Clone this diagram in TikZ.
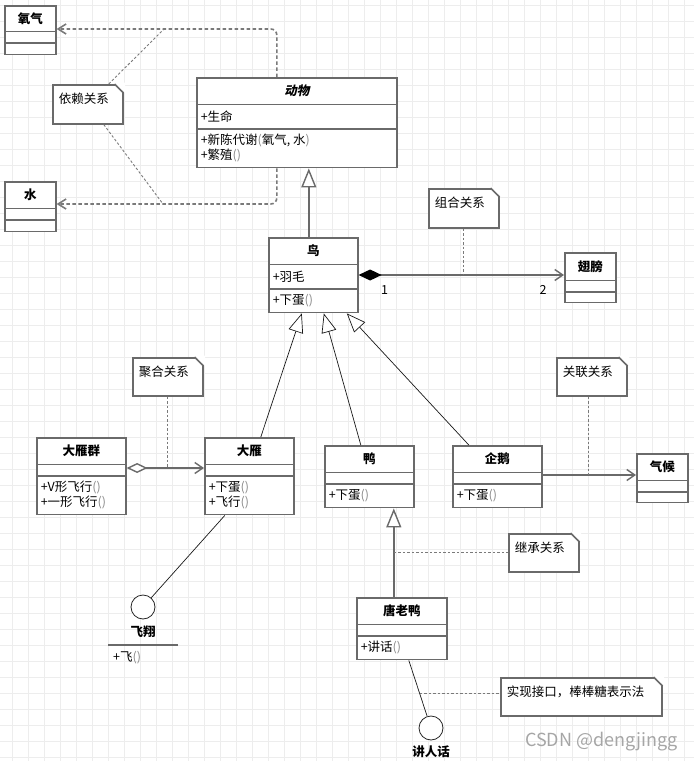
\documentclass[tikz,border=0pt]{standalone}
\usepackage{fontspec}
\setmainfont{Noto Sans CJK SC}
\newfontfamily\slantfont{Noto Sans CJK SC}[FakeSlant=0.2]
\usepackage{xcolor}
\usepackage{tikz}
\usetikzlibrary{arrows.meta}
\usetikzlibrary{shapes.multipart}
\definecolor{boxgray}{HTML}{6A6A6A}
\definecolor{linegray}{HTML}{7A7A7A}
\definecolor{gridgray}{HTML}{EDEDED}
\definecolor{parengray}{HTML}{8C8C8C}
% compartments of a class box: width, height, text
\newcommand{\cname}[3]{\parbox[c][#2bp][c]{#1bp}{\centering\bfseries #3}}
\newcommand{\cbody}[3]{\parbox[c][#2bp][c]{#1bp}{\raggedright\leftskip=4bp\relax #3}}
\newcommand{\args}[1]{\textcolor{parengray}{(}#1\textcolor{parengray}{)}}
\newcommand{\notetext}[3]{\parbox[c][#2bp][t]{#1bp}{\vspace*{8bp}\hspace*{6bp}#3}}
\newcommand{\notefold}[1]{%
    \fill[white] ([xshift=-9.5bp,yshift=1.5bp]#1.north east) -- ([xshift=1.5bp,yshift=1.5bp]#1.north east) -- ([xshift=1.5bp,yshift=-9.5bp]#1.north east) -- cycle;
    \draw[note_edge] ([xshift=-9bp]#1.north east) -- ([yshift=-9bp]#1.north east);}
\tikzset{
    class_box/.style = {rectangle split, rectangle split parts=3, draw=boxgray, line width=1.6bp, fill=white, inner sep=0pt, anchor=north west},
    note_box/.style = {rectangle, draw=boxgray, line width=1.6bp, fill=white, inner sep=0pt, anchor=north west},
    note_edge/.style = {draw=boxgray, line width=1.6bp},
    iface/.style = {circle, draw=black!85, line width=0.8bp, fill=white, minimum size=24bp, inner sep=0pt},
    iface_label/.style = {inner sep=0pt, font=\fontsize{12.5bp}{15bp}\selectfont\bfseries},
    mult_label/.style = {inner sep=0pt},
    grid_line/.style = {draw=gridgray, line width=0.8bp},
    dep_line/.style = {draw=linegray, line width=1.6bp, dash pattern=on 3.5bp off 2.5bp, rounded corners=6bp, -{Straight Barb[length=8bp, width=10bp]}},
    note_link/.style = {draw=linegray, line width=0.9bp, dash pattern=on 2.5bp off 2bp},
    gen_line/.style = {draw=black!90, line width=0.7bp, -{Triangle[length=19bp, width=15bp, fill=white]}},
    gen_thick/.style = {gen_line, draw=boxgray, line width=1.4bp},
    comp_line/.style = {draw=boxgray, line width=1.4bp, {Diamond[length=23bp, width=11bp, fill=black, color=black]}-{Straight Barb[length=8bp, width=11bp]}},
    aggr_line/.style = {draw=boxgray, line width=1.4bp, {Diamond[length=21bp, width=10bp, fill=white]}-{Straight Barb[length=8bp, width=11bp]}},
    assoc_line/.style = {draw=boxgray, line width=1.4bp, -{Straight Barb[length=8bp, width=11bp]}},
    iface_line/.style = {draw=black!90, line width=0.7bp}
}
\begin{document}
\begin{tikzpicture}[x=1bp, y=-1bp, font=\fontsize{12.5bp}{15bp}\selectfont]
    \fill[white] (0,0) rectangle (694,761);
    \useasboundingbox (0,0) rectangle (694,761);
    \foreach \gx in {12,28,...,690} \draw[grid_line] (\gx,0) -- (\gx,761);
    \foreach \gy in {5,21,...,757} \draw[grid_line] (0,\gy) -- (694,\gy);

    % classes
    \node[class_box] (oxygen) at (4,5) {\cname{51}{24}{氧气}\nodepart{two}\cbody{51}{10}{}\nodepart{three}\cbody{51}{10}{}};
    \node[class_box] (water) at (4,181) {\cname{51}{25}{水}\nodepart{two}\cbody{51}{10}{}\nodepart{three}\cbody{51}{10}{}};
    \node[class_box] (animal) at (196,77) {\cname{200}{25}{\slantfont 动物}\nodepart{two}\cbody{200}{23}{+生命}\nodepart{three}\cbody{200}{37}{+新陈代谢\args{氧气, 水}\\+繁殖\args{}}};
    \node[class_box] (bird) at (268,237) {\cname{89}{25}{鸟}\nodepart{two}\cbody{89}{23}{+羽毛}\nodepart{three}\cbody{89}{22}{+下蛋\args{}}};
    \node[class_box] (wing) at (564,252) {\cname{51}{26}{翅膀}\nodepart{two}\cbody{51}{10}{}\nodepart{three}\cbody{51}{9}{}};
    \node[class_box] (geese) at (36,437) {\cname{89}{25}{大雁群}\nodepart{two}\cbody{89}{10}{}\nodepart{three}\cbody{89}{37}{+V形飞行\args{}\\+一形飞行\args{}}};
    \node[class_box] (goose) at (204,437) {\cname{89}{25}{大雁}\nodepart{two}\cbody{89}{10}{}\nodepart{three}\cbody{89}{37}{+下蛋\args{}\\+飞行\args{}}};
    \node[class_box] (duck) at (324,445) {\cname{89}{25}{鸭}\nodepart{two}\cbody{89}{10}{}\nodepart{three}\cbody{89}{22}{+下蛋\args{}}};
    \node[class_box] (penguin) at (452,445) {\cname{89}{25}{企鹅}\nodepart{two}\cbody{89}{10}{}\nodepart{three}\cbody{89}{22}{+下蛋\args{}}};
    \node[class_box] (climate) at (636,453) {\cname{51}{25}{气候}\nodepart{two}\cbody{51}{10}{}\nodepart{three}\cbody{51}{9}{}};
    \node[class_box] (tang) at (356,597) {\cname{90}{25}{唐老鸭}\nodepart{two}\cbody{90}{10}{}\nodepart{three}\cbody{90}{22}{+讲话\args{}}};

    % notes
    \node[note_box] (dep_note) at (52,84) {\notetext{70}{39}{依赖关系}}; \notefold{dep_note}
    \node[note_box] (comp_note) at (428,188) {\notetext{70}{39}{组合关系}}; \notefold{comp_note}
    \node[note_box] (aggr_note) at (132,357) {\notetext{70}{38}{聚合关系}}; \notefold{aggr_note}
    \node[note_box] (assoc_note) at (556,357) {\notetext{70}{38}{关联关系}}; \notefold{assoc_note}
    \node[note_box] (inh_note) at (508,533) {\notetext{70}{38}{继承关系}}; \notefold{inh_note}
    \node[note_box] (impl_note) at (500,677) {\notetext{161}{38}{实现接口，棒棒糖表示法}}; \notefold{impl_note}

    % interfaces
    \node[iface] (fly) at (143,607) {};
    \node[iface_label] (fly_label) at (143,632) {飞翔};
    \coordinate (fly_rule) at (108,645);
    \draw[note_edge] (fly_rule) -- ++(70,0);
    \node[anchor=west, inner sep=0pt] (fly_op) at (113,658) {+飞\args{}};
    \node[iface] (speak) at (431,728) {};
    \node[iface_label] (speak_label) at (431,752) {讲人话};

    % dependency
    \draw[dep_line] ([xshift=-20bp]animal.north) |- ([yshift=-24bp]oxygen.north east);
    \draw[dep_line] ([xshift=-20bp]animal.south) |- ([yshift=-23bp]water.north east);
    \coordinate (dep_up) at (164,29);
    \coordinate (dep_down) at (163,204);
    \draw[note_link] ([xshift=21bp]dep_note.north) -- (dep_up);
    \draw[note_link] ([xshift=16bp]dep_note.south) -- (dep_down);

    % generalization
    \draw[gen_thick] ([xshift=12bp]animal.south |- bird.north) -- ([xshift=12bp]animal.south);
    \draw[gen_line] ([xshift=11.5bp]goose.north) -- ([xshift=-11.5bp]bird.south);
    \draw[gen_line] ([xshift=-8.5bp]duck.north) -- ([xshift=10.5bp]bird.south);
    \draw[gen_line] ([xshift=-28.5bp]penguin.north) -- ([xshift=33.5bp]bird.south);
    \draw[gen_thick] ([xshift=24.5bp]duck.south |- tang.north) -- ([xshift=24.5bp]duck.south) coordinate[pos=0.5] (tang_mid);
    \draw[note_link] (tang_mid) -- (tang_mid -| inh_note.west);

    % composition
    \coordinate (bird_wing) at ([yshift=-38bp]bird.north east);
    \draw[comp_line] (bird_wing) -- (bird_wing -| wing.west);
    \node[mult_label] (mult_one) at ([xshift=26bp,yshift=-15bp]bird_wing) {1};
    \node[mult_label] (mult_two) at ([xshift=-21bp,yshift=-15bp]bird_wing -| wing.west) {2};
    \draw[note_link] (comp_note.south) -- (comp_note.south |- bird_wing);

    % aggregation
    \coordinate (geese_goose) at ([yshift=-31bp]geese.north east);
    \draw[aggr_line] (geese_goose) -- (geese_goose -| goose.west);
    \draw[note_link] (aggr_note.south) -- (aggr_note.south |- geese_goose);

    % association
    \coordinate (penguin_climate) at ([yshift=-30bp]penguin.north east);
    \draw[assoc_line] (penguin_climate) -- (penguin_climate -| climate.west);
    \draw[note_link] ([xshift=-3bp]assoc_note.south) -- ([xshift=-3bp]assoc_note.south |- penguin_climate);

    % realization (lollipop)
    \draw[iface_line] ([xshift=-24.5bp]goose.south) -- (fly);
    \draw[iface_line] ([xshift=7bp]tang.south) -- (speak) coordinate[pos=0.6] (speak_mid);
    \draw[note_link] (speak_mid) -- (speak_mid -| impl_note.west);

    \node[anchor=west, inner sep=0pt, text=black!35, font=\fontsize{18bp}{20bp}\selectfont] (mark) at (525,742) {CSDN @dengjingg};
\end{tikzpicture}
\end{document}
